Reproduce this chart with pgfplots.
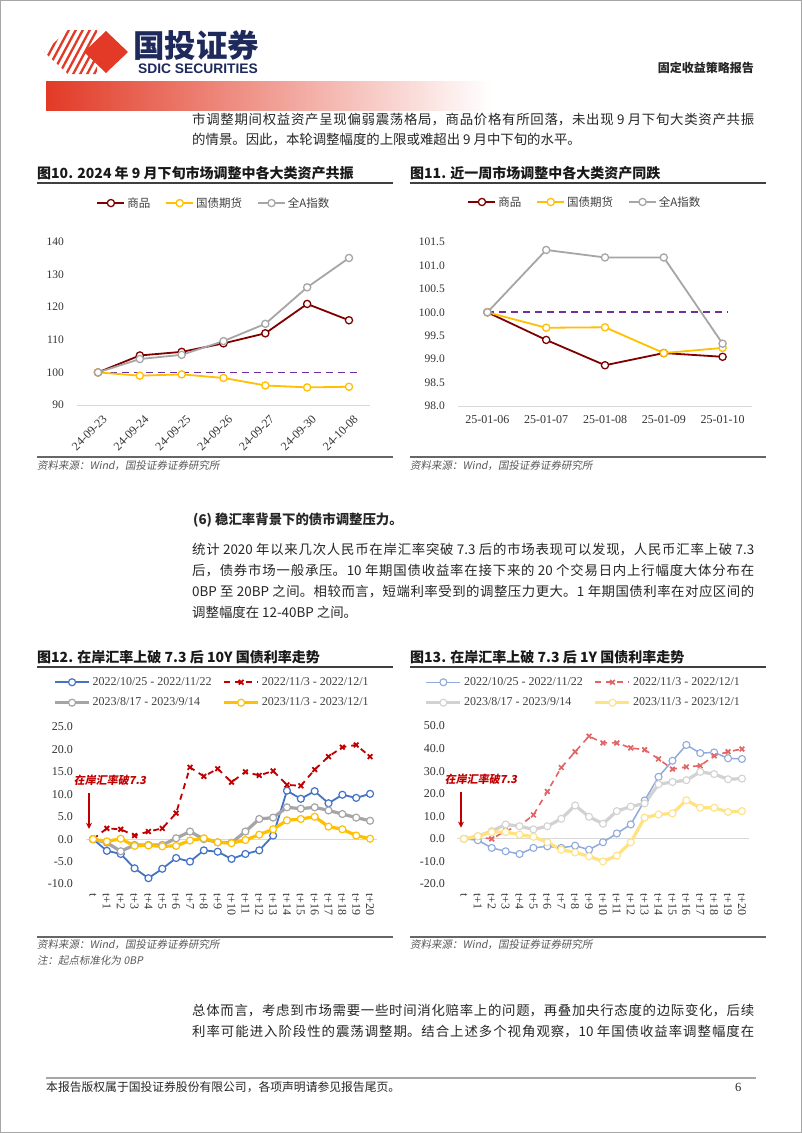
\documentclass[border=0pt]{standalone}
\usepackage{pgfplots}
\pgfplotsset{compat=1.18}
\usetikzlibrary{arrows.meta}
\usepackage{fontspec}
\setmainfont{Liberation Serif}
\newfontfamily\cjk{Noto Sans CJK SC}
\newfontfamily\cjksl{Noto Sans CJK SC}[FakeSlant=0.18]
\newfontfamily\arialf{Liberation Sans}
\XeTeXlinebreaklocale "zh"
\XeTeXlinebreakskip=0pt plus 2pt
\newcommand\fs[1]{\fontsize{#1}{#1}\selectfont}
\definecolor{hdrred}{RGB}{226,58,38}
\definecolor{navy}{RGB}{30,42,92}
\definecolor{bodyc}{RGB}{38,38,38}
\definecolor{tickc}{RGB}{51,51,51}
\definecolor{legc}{RGB}{64,64,64}
\definecolor{srcc}{RGB}{89,89,89}
\definecolor{cA}{RGB}{128,0,0}
\definecolor{cB}{RGB}{255,192,0}
\definecolor{cC}{RGB}{166,166,166}
\definecolor{cP}{RGB}{112,48,160}
\definecolor{dBlue}{RGB}{68,114,196}
\definecolor{dRed}{RGB}{192,0,0}
\definecolor{dGray}{RGB}{165,165,165}
\definecolor{dYel}{RGB}{255,192,0}
\definecolor{lBlue}{RGB}{143,170,220}
\definecolor{lRed}{RGB}{226,100,100}
\definecolor{lGray}{RGB}{210,210,210}
\definecolor{lYel}{RGB}{255,226,130}
\definecolor{zline}{RGB}{217,217,217}
\pgfplotsset{
  mychart/.style={scale only axis, anchor=south west, clip=false,
    axis line style={draw=none}, major tick length=0pt, tick style={draw=none},
    ticklabel style={font=\fs{11.5}, text=tickc, inner sep=0pt},
    yticklabel style={anchor=east, xshift=-13pt},
    legend style={draw=none, fill=none, anchor=center, font=\cjk\fs{11.5}, text=legc},
    legend cell align=left},
}
\newcommand\bodyfont{\cjk\fs{13.4}\color{bodyc}}
\begin{document}
\begin{tikzpicture}
\begin{scope}[x=1pt,y=-1pt]
\path[use as bounding box, fill=white] (0,0) rectangle (802,1133);
\draw[gray!70, line width=1pt] (0.5,0.5) rectangle (801.5,1132.5);
% logo
\begin{scope}
\clip (44,52) -- (68,30) -- (97,30) -- (97,74) -- (68,74) -- cycle;
\foreach \k in {0,...,9} \draw[hdrred, line width=2.3pt] (28+7*\k,80) -- (58+7*\k,24);
\end{scope}
\fill[hdrred] (84,52) -- (106,31) -- (128,52) -- (106,73) -- cycle;
\node[anchor=base west, inner sep=0pt, text=navy] at (133,57) {\cjk\bfseries\fs{31.5}国投证券};
\node[anchor=base west, inner sep=0pt, text=navy] at (138,73) {\arialf\bfseries\fs{13.8}SDIC SECURITIES};
\node[anchor=base east, inner sep=0pt, text=bodyc] at (754,72) {\cjk\bfseries\fs{12}固定收益策略报告};
\shade[left color=hdrred, right color=white] (46,81) rectangle (491,110);
% paragraph 1
\node[anchor=base west, inner sep=0pt, text width=562pt] at (192,124) {\bodyfont\leftskip=0pt\rightskip=0pt\parfillskip=0pt 市调整期间权益资产呈现偏弱震荡格局，商品价格有所回落，未出现 9 月下旬大类资产共振\par};
\node[anchor=base west, inner sep=0pt] at (192,144.5) {\bodyfont 的情景。因此，本轮调整幅度的上限或难超出 9 月中下旬的水平。};
% chart titles
\node[anchor=base west, inner sep=0pt, text=black!90] at (37,178) {\cjk\bfseries\fs{14}图10. 2024 年 9 月下旬市场调整中各大类资产共振};
\node[anchor=base west, inner sep=0pt, text=black!90] at (410,178) {\cjk\bfseries\fs{14}图11. 近一周市场调整中各大类资产同跌};
\draw[black!75, line width=1.3pt] (37,183) -- (393,183);
\draw[black!75, line width=1.3pt] (410,183) -- (766,183);
\draw[black!60, line width=1.3pt] (37,457) -- (393,457);
\draw[black!60, line width=1.3pt] (410,457) -- (766,457);
\node[anchor=base west, inner sep=0pt, text=srcc] at (37,469.5) {\cjksl\fs{10.5}资料来源：Wind，国投证券证券研究所};
\node[anchor=base west, inner sep=0pt, text=srcc] at (410,469.5) {\cjksl\fs{10.5}资料来源：Wind，国投证券证券研究所};
% heading and paragraph 2
\node[anchor=base west, inner sep=0pt] at (193,524) {\cjk\bfseries\fs{13.4}\color{bodyc}(6) 稳汇率背景下的债市调整压力。};
\node[anchor=base west, inner sep=0pt, text width=562pt] at (192,554) {\bodyfont\leftskip=0pt\rightskip=0pt\parfillskip=0pt 统计 2020 年以来几次人民币在岸汇率突破 7.3 后的市场表现可以发现，人民币汇率上破 7.3\par};
\node[anchor=base west, inner sep=0pt, text width=562pt] at (192,575) {\bodyfont\leftskip=0pt\rightskip=0pt\parfillskip=0pt 后，债券市场一般承压。10 年期国债收益率在接下来的 20 个交易日内上行幅度大体分布在\par};
\node[anchor=base west, inner sep=0pt, text width=562pt] at (192,596) {\bodyfont\leftskip=0pt\rightskip=0pt\parfillskip=0pt 0BP 至 20BP 之间。相较而言，短端利率受到的调整压力更大。1 年期国债利率在对应区间的\par};
\node[anchor=base west, inner sep=0pt] at (192,617) {\bodyfont 调整幅度在 12-40BP 之间。};
% chart 12/13 titles
\node[anchor=base west, inner sep=0pt, text=black!90] at (37,662) {\cjk\bfseries\fs{14}图12. 在岸汇率上破 7.3 后 10Y 国债利率走势};
\node[anchor=base west, inner sep=0pt, text=black!90] at (410,662) {\cjk\bfseries\fs{14}图13. 在岸汇率上破 7.3 后 1Y 国债利率走势};
\draw[black!75, line width=1.3pt] (37,667) -- (393,667);
\draw[black!75, line width=1.3pt] (410,667) -- (766,667);
\draw[black!60, line width=1.3pt] (37,937) -- (393,937);
\draw[black!60, line width=1.3pt] (410,937) -- (766,937);
\node[anchor=base west, inner sep=0pt, text=srcc] at (37,948.5) {\cjksl\fs{10.5}资料来源：Wind，国投证券证券研究所};
\node[anchor=base west, inner sep=0pt, text=srcc] at (37,964.5) {\cjksl\fs{10.5}注：起点标准化为 0BP};
\node[anchor=base west, inner sep=0pt, text=srcc] at (410,948.5) {\cjksl\fs{10.5}资料来源：Wind，国投证券证券研究所};
% paragraph 3
\node[anchor=base west, inner sep=0pt, text width=562pt] at (192,1015) {\bodyfont\leftskip=0pt\rightskip=0pt\parfillskip=0pt 总体而言，考虑到市场需要一些时间消化赔率上的问题，再叠加央行态度的边际变化，后续\par};
\node[anchor=base west, inner sep=0pt, text width=562pt] at (192,1036) {\bodyfont\leftskip=0pt\rightskip=0pt\parfillskip=0pt 利率可能进入阶段性的震荡调整期。结合上述多个视角观察，10 年国债收益率调整幅度在\par};
% footer
\draw[gray!70, line width=1.3pt] (46,1078) -- (756,1078);
\node[anchor=base west, inner sep=0pt, text=bodyc] at (46,1091) {\cjk\fs{11.8}本报告版权属于国投证券股份有限公司，各项声明请参见报告尾页。};
\node[anchor=base west, inner sep=0pt, text=bodyc] at (735,1091) {\fs{12.5}6};
\end{scope}

% ---------- chart 10
\begin{axis}[mychart, at={(77.1pt,-405pt)}, width=292.8pt, height=163pt,
  xmin=-0.5, xmax=6.5, ymin=90, ymax=140,
  xtick={0,1,2,3,4,5,6},
  xticklabels={24-09-23,24-09-24,24-09-25,24-09-26,24-09-27,24-09-30,24-10-08},
  xticklabel style={font=\fs{12}, anchor=north east, xshift=4pt, yshift=-9pt, rotate=45},
  ytick={90,100,110,120,130,140},
  yticklabels={90,100,110,120,130,140},
  legend columns=3,
  legend style={at={(0.4675,1.239)}, /tikz/every even column/.append style={column sep=13pt}},
  legend image code/.code={\draw[mark repeat=2,mark phase=2,#1] plot coordinates {(0pt,0pt)(13.5pt,0pt)(27pt,0pt)};},
]
\addplot[zline, line width=0.9pt, forget plot] coordinates {(-0.5,90)(6.5,90)};
\addplot[cP, line width=1.8pt, dash pattern=on 7pt off 5pt, forget plot] coordinates {(0,100)(6.3,100)};
\addplot[cA, line width=1.8pt, mark=*, mark size=3.6pt, mark options={fill=white, line width=1.3pt, solid}] coordinates {(0,100)(1,105.2)(2,106.3)(3,108.9)(4,112.0)(5,121.0)(6,116.0)};
\addlegendentry{商品}
\addplot[cB, line width=1.8pt, mark=*, mark size=3.6pt, mark options={fill=white, line width=1.3pt, solid}] coordinates {(0,100)(1,99.0)(2,99.4)(3,98.3)(4,96.0)(5,95.4)(6,95.6)};
\addlegendentry{国债期货}
\addplot[cC, line width=1.8pt, mark=*, mark size=3.6pt, mark options={fill=white, line width=1.3pt, solid}] coordinates {(0,100)(1,104.1)(2,105.4)(3,109.6)(4,114.9)(5,126.1)(6,135.1)};
\addlegendentry{全A指数}
\end{axis}

% ---------- chart 11
\begin{axis}[mychart, at={(458pt,-406pt)}, width=294pt, height=164pt,
  xmin=-0.5, xmax=4.5, ymin=98, ymax=101.5,
  xtick={0,1,2,3,4},
  xticklabels={25-01-06,25-01-07,25-01-08,25-01-09,25-01-10},
  xticklabel style={font=\fs{12}, yshift=-9pt},
  ytick={98,98.5,99,99.5,100,100.5,101,101.5},
  yticklabels={98.0,98.5,99.0,99.5,100.0,100.5,101.0,101.5},
  legend columns=3,
  legend style={at={(0.432,1.244)}, /tikz/every even column/.append style={column sep=13pt}},
  legend image code/.code={\draw[mark repeat=2,mark phase=2,#1] plot coordinates {(0pt,0pt)(13.5pt,0pt)(27pt,0pt)};},
]
\addplot[zline, line width=0.9pt, forget plot] coordinates {(-0.5,98)(4.5,98)};
\addplot[cP, line width=1.8pt, dash pattern=on 7pt off 5pt, forget plot] coordinates {(0,100)(4.1,100)};
\addplot[cA, line width=1.8pt, mark=*, mark size=3.6pt, mark options={fill=white, line width=1.3pt, solid}] coordinates {(0,100)(1,99.41)(2,98.87)(3,99.13)(4,99.05)};
\addlegendentry{商品}
\addplot[cB, line width=1.8pt, mark=*, mark size=3.6pt, mark options={fill=white, line width=1.3pt, solid}] coordinates {(0,100)(1,99.67)(2,99.68)(3,99.13)(4,99.24)};
\addlegendentry{国债期货}
\addplot[cC, line width=1.8pt, mark=*, mark size=3.6pt, mark options={fill=white, line width=1.3pt, solid}] coordinates {(0,100)(1,101.33)(2,101.17)(3,101.17)(4,99.33)};
\addlegendentry{全A指数}
\end{axis}

% ---------- chart 12
\begin{axis}[mychart, at={(86.1pt,-884pt)}, width=290.9pt, height=157pt,
  xmin=-0.5, xmax=20.5, ymin=-10, ymax=25,
  xtick={0,...,20},
  xticklabels={t,t+1,t+2,t+3,t+4,t+5,t+6,t+7,t+8,t+9,t+10,t+11,t+12,t+13,t+14,t+15,t+16,t+17,t+18,t+19,t+20},
  xticklabel style={font=\fs{12}, anchor=west, yshift=-9pt, rotate=-90},
  ytick={-10,-5,0,5,10,15,20,25},
  yticklabels={-10.0,-5.0,0.0,5.0,10.0,15.0,20.0,25.0},
  yticklabel style={font=\fs{12}},
  legend columns=2,
  legend style={at={(0.433,1.22)}, font=\fs{12}, row sep=7pt, /tikz/every even column/.append style={column sep=9pt}},
  legend image code/.code={\draw[mark repeat=2,mark phase=2,#1] plot coordinates {(0pt,0pt)(17pt,0pt)(34pt,0pt)};},
]
\addplot[zline, line width=0.9pt, forget plot] coordinates {(-0.5,0)(20.5,0)};
\addplot[dBlue, line width=1.8pt, mark=*, mark size=3.5pt, mark options={fill=white, line width=1.2pt, solid}] coordinates {(0,0)(1,-2.6)(2,-3.3)(3,-6.5)(4,-8.7)(5,-6.6)(6,-4.2)(7,-5.0)(8,-2.5)(9,-2.8)(10,-4.4)(11,-3.3)(12,-2.5)(13,0.8)(14,10.8)(15,9.0)(16,10.7)(17,8.0)(18,9.9)(19,9.2)(20,10.1)};
\addlegendentry{2022/10/25 - 2022/11/22}
\addplot[dRed, line width=1.8pt, dash pattern=on 6pt off 5pt, mark=x, mark size=3.3pt, mark options={solid, line width=1.8pt}] coordinates {(0,0)(1,2.4)(2,2.2)(3,0.8)(4,1.7)(5,2.4)(6,5.8)(7,16.0)(8,14.0)(9,15.7)(10,12.7)(11,15.0)(12,14.2)(13,15.2)(14,12.1)(15,11.9)(16,15.5)(17,18.4)(18,20.5)(19,21.0)(20,18.4)};
\addlegendentry{2022/11/3 - 2022/12/1}
\addplot[dGray, line width=3.2pt, mark=*, mark size=3.5pt, mark options={fill=white, line width=1.2pt, solid}] coordinates {(0,0)(1,-0.8)(2,-2.7)(3,-1.3)(4,-1.3)(5,-1.3)(6,0.2)(7,1.7)(8,0.0)(9,-0.7)(10,-0.8)(11,1.7)(12,4.5)(13,4.8)(14,7.1)(15,6.8)(16,7.1)(17,6.4)(18,5.6)(19,4.8)(20,4.1)};
\addlegendentry{2023/8/17 - 2023/9/14}
\addplot[dYel, line width=3.2pt, mark=*, mark size=3.5pt, mark options={fill=white, line width=1.2pt, solid}] coordinates {(0,0)(1,-0.5)(2,0.1)(3,-1.5)(4,-1.4)(5,-1.6)(6,-1.5)(7,-0.3)(8,0.2)(9,-0.7)(10,-0.9)(11,-0.2)(12,1.0)(13,2.2)(14,4.2)(15,4.5)(16,5.0)(17,2.8)(18,2.2)(19,0.8)(20,0.1)};
\addlegendentry{2023/11/3 - 2023/12/1}
\draw[dRed, line width=1.6pt, -{Stealth[length=6pt, width=6pt]}] (axis cs:-0.29,10.3) -- (axis cs:-0.29,2.3);
\node[text=dRed, font=\cjksl\bfseries\fs{11}] at (axis cs:1.23,13.2) {在岸汇率破7.3};
\end{axis}

% ---------- chart 13
\begin{axis}[mychart, at={(457pt,-884pt)}, width=291.9pt, height=158pt,
  xmin=-0.5, xmax=20.5, ymin=-20, ymax=50,
  xtick={0,...,20},
  xticklabels={t,t+1,t+2,t+3,t+4,t+5,t+6,t+7,t+8,t+9,t+10,t+11,t+12,t+13,t+14,t+15,t+16,t+17,t+18,t+19,t+20},
  xticklabel style={font=\fs{12}, anchor=west, yshift=-9pt, rotate=-90},
  ytick={-20,-10,0,10,20,30,40,50},
  yticklabels={-20.0,-10.0,0.0,10.0,20.0,30.0,40.0,50.0},
  yticklabel style={font=\fs{12}, xshift=1pt},
  legend columns=2,
  legend style={at={(0.433,1.212)}, font=\fs{12}, row sep=7pt, /tikz/every even column/.append style={column sep=9pt}},
  legend image code/.code={\draw[mark repeat=2,mark phase=2,#1] plot coordinates {(0pt,0pt)(17pt,0pt)(34pt,0pt)};},
]
\addplot[zline, line width=0.9pt, forget plot] coordinates {(-0.5,0)(20.5,0)};
\addplot[lBlue, line width=1.5pt, mark=*, mark size=3.5pt, mark options={fill=white, line width=1.1pt, solid}] coordinates {(0,0)(1,-0.6)(2,-4.0)(3,-5.5)(4,-6.7)(5,-4.0)(6,-3.3)(7,-4.0)(8,-3.0)(9,-4.8)(10,-1.5)(11,2.4)(12,6.4)(13,17.0)(14,27.5)(15,34.6)(16,41.6)(17,38.0)(18,38.3)(19,35.7)(20,35.4)};
\addlegendentry{2022/10/25 - 2022/11/22}
\addplot[lRed, line width=1.6pt, dash pattern=on 6pt off 5pt, mark=x, mark size=3.3pt, mark options={solid, line width=1.7pt}] coordinates {(0,0)(1,0.8)(2,0.0)(3,3.5)(4,5.8)(5,10.6)(6,21.0)(7,31.6)(8,38.6)(9,45.5)(10,42.5)(11,42.5)(12,40.3)(13,39.5)(14,35.4)(15,30.9)(16,31.9)(17,32.4)(18,36.8)(19,38.6)(20,39.8)};
\addlegendentry{2022/11/3 - 2022/12/1}
\addplot[lGray, line width=3.2pt, mark=*, mark size=3.5pt, mark options={fill=white, line width=1.1pt, solid}] coordinates {(0,0)(1,1.2)(2,3.4)(3,6.4)(4,5.6)(5,4.2)(6,5.6)(7,8.9)(8,14.8)(9,9.8)(10,6.7)(11,12.3)(12,14.3)(13,15.7)(14,24.2)(15,25.2)(16,26.0)(17,29.7)(18,28.7)(19,26.4)(20,26.7)};
\addlegendentry{2023/8/17 - 2023/9/14}
\addplot[lYel, line width=3.2pt, mark=*, mark size=3.5pt, mark options={fill=white, line width=1.1pt, solid}] coordinates {(0,0)(1,1.2)(2,3.0)(3,3.0)(4,1.9)(5,0.9)(6,-1.5)(7,-4.8)(8,-6.0)(9,-7.7)(10,-10.0)(11,-7.4)(12,-1.5)(13,9.4)(14,10.8)(15,11.3)(16,17.1)(17,13.8)(18,13.8)(19,11.9)(20,12.3)};
\addlegendentry{2023/11/3 - 2023/12/1}
\draw[dRed, line width=1.6pt, -{Stealth[length=6pt, width=6pt]}] (axis cs:-0.21,20.6) -- (axis cs:-0.21,5.0);
\node[text=dRed, font=\cjksl\bfseries\fs{11}] at (axis cs:1.23,26.4) {在岸汇率破7.3};
\end{axis}
\end{tikzpicture}
\end{document}
